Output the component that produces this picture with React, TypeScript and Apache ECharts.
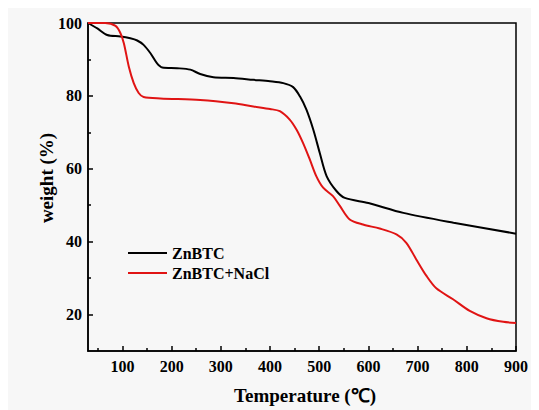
import React, { useEffect, useRef } from "react";
import * as echarts from "echarts";

const znbtcTemp = [30, 49, 69, 96, 116, 130, 143, 157, 170, 181, 211, 238, 258, 285, 326, 366, 400, 427, 447, 461, 474, 488, 501, 515, 535, 552, 600, 671, 773, 900];
const znbtcWeight = [100, 98.5, 96.7, 96.3, 95.8, 95.2, 94, 91.7, 89, 87.8, 87.6, 87.2, 86, 85.1, 84.9, 84.4, 84, 83.5, 82.4, 79.8, 76.2, 70.7, 64.4, 58, 53.9, 52, 50.6, 47.9, 45.2, 42.2];

const naclTemp = [30, 65, 86, 96, 103, 113, 123, 133, 143, 177, 258, 326, 366, 400, 420, 440, 454, 467, 481, 494, 508, 528, 542, 562, 589, 623, 657, 677, 697, 718, 738, 772, 806, 840, 874, 900];
const naclWeight = [100, 100, 99.2, 97.2, 94.4, 88, 83.5, 80.8, 79.7, 79.3, 78.9, 78, 77.1, 76.4, 75.8, 73.5, 70.7, 67.1, 62.5, 58, 54.8, 52.5, 49.8, 46.1, 44.7, 43.6, 42, 39.7, 35.2, 30.6, 27.2, 24.2, 21, 19, 18, 17.7];

const xMajorTicks = [100, 200, 300, 400, 500, 600, 700, 800, 900];
const xMinorTicks = [50, 150, 250, 350, 450, 550, 650, 750, 850];
const yMajorTicks = [20, 40, 60, 80, 100];
const yMinorTicks = [30, 50, 70, 90];

const seriesNames = ["ZnBTC", "ZnBTC+NaCl"];

const FONT = "'Liberation Serif', 'Times New Roman', serif";

export default function App() {
  const ref = useRef<HTMLDivElement>(null);
  useEffect(() => {
    document.body.style.overflow = "hidden";
    const chart = echarts.init(ref.current!, null, { renderer: "svg" });
    const zip = (xs: number[], ys: number[]) => xs.map((x, i) => [x, ys[i]]);
    const axisLabelStyle = { fontFamily: FONT, fontWeight: "bold" as const, fontSize: 16, color: "#000" };
    chart.setOption({
      animation: false,
      backgroundColor: "#f7f7f7",
      textStyle: { fontFamily: FONT, fontWeight: "bold" },
      grid: {
        left: 80,
        top: 15,
        right: 23,
        bottom: 58,
        show: true,
        borderColor: "#000",
        borderWidth: 1.5,
        containLabel: false,
      },
      legend: {
        orient: "vertical",
        left: 120,
        top: 237,
        padding: 0,
        itemGap: 4,
        itemWidth: 39,
        itemHeight: 2,
        icon: "rect",
        textStyle: { ...axisLabelStyle, fontSize: 16 },
        data: seriesNames,
      },
      xAxis: [
        {
          type: "value",
          min: 30,
          max: 900,
          name: "Temperature (℃)",
          nameLocation: "middle",
          nameGap: 35,
          nameTextStyle: { fontFamily: FONT, fontWeight: "bold", fontSize: 19, color: "#000", padding: [0, 0, 0, 6] },
          axisLine: { show: true, lineStyle: { color: "#000", width: 1.5 } },
          axisTick: { show: true, inside: true, length: 5, lineStyle: { color: "#000", width: 1.5 }, customValues: xMajorTicks },
          axisLabel: { ...axisLabelStyle, margin: 7, customValues: xMajorTicks },
          splitLine: { show: false },
        },
        {
          type: "value",
          min: 30,
          max: 900,
          position: "bottom",
          axisLine: { show: false },
          axisTick: { show: true, inside: true, length: 3, lineStyle: { color: "#000", width: 1.5 }, customValues: xMinorTicks },
          axisLabel: { show: false },
          splitLine: { show: false },
        },
      ],
      yAxis: [
        {
          type: "value",
          min: 10,
          max: 100,
          axisLine: { show: true, lineStyle: { color: "#000", width: 1.5 } },
          axisTick: { show: true, inside: true, length: 5, lineStyle: { color: "#000", width: 1.5 }, customValues: yMajorTicks },
          axisLabel: { ...axisLabelStyle, margin: 6, customValues: yMajorTicks },
          splitLine: { show: false },
        },
        {
          type: "value",
          min: 10,
          max: 100,
          position: "left",
          axisLine: { show: false },
          axisTick: { show: true, inside: true, length: 3, lineStyle: { color: "#000", width: 1.5 }, customValues: yMinorTicks },
          axisLabel: { show: false },
          splitLine: { show: false },
        },
      ],
      graphic: [
        {
          type: "text",
          x: 38,
          y: 170,
          rotation: Math.PI / 2,
          style: {
            text: "weight (%)",
            fontFamily: FONT,
            fontWeight: "bold",
            fontSize: 19,
            fill: "#000",
            align: "center",
            verticalAlign: "middle",
          },
        },
      ],
      series: [
        {
          name: seriesNames[0],
          type: "line",
          data: zip(znbtcTemp, znbtcWeight),
          showSymbol: false,
          smooth: 0.3,
          lineStyle: { color: "#000", width: 2 },
          itemStyle: { color: "#000" },
        },
        {
          name: seriesNames[1],
          type: "line",
          data: zip(naclTemp, naclWeight),
          showSymbol: false,
          smooth: 0.3,
          lineStyle: { color: "#e01414", width: 2 },
          itemStyle: { color: "#e01414" },
        },
      ],
    });
    return () => chart.dispose();
  }, []);
  return <div ref={ref} style={{ width: 531, height: 402 }} />;
}
